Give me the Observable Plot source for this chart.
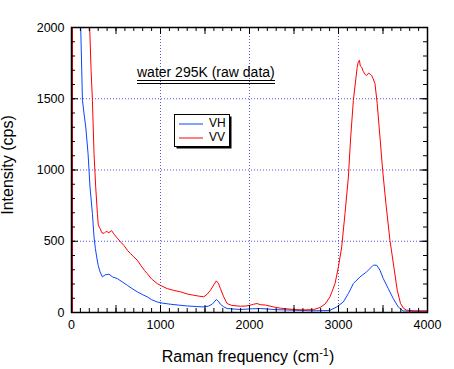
<!DOCTYPE html>
<html>
<head>
<meta charset="utf-8">
<script src="https://cdn.jsdelivr.net/npm/d3@7"></script>
<script src="https://cdn.jsdelivr.net/npm/@observablehq/plot@0.6"></script>
<style>
  html, body { margin: 0; padding: 0; background: white; }
  #chart { width: 454px; height: 369px; }
</style>
</head>
<body>
<div id="chart"></div>
<script>
// ---- Data ----
const vvFreq = [10, 12, 180, 205, 220, 235, 253, 272, 291, 300, 310, 321, 340, 366, 390, 420, 450, 478, 510, 552, 590, 627, 660, 700, 739, 780, 820, 851, 900, 963, 1000, 1075, 1150, 1225, 1300, 1374, 1430, 1486, 1520, 1561, 1600, 1628, 1650, 1673, 1710, 1748, 1800, 1897, 1950, 2000, 2046, 2084, 2120, 2180, 2270, 2350, 2494, 2600, 2718, 2793, 2850, 2905, 2961, 2999, 3036, 3073, 3111, 3137, 3167, 3197, 3210, 3222, 3235, 3245, 3260, 3280, 3300, 3316, 3340, 3360, 3372, 3390, 3410, 3435, 3466, 3496, 3533, 3578, 3622, 3660, 3697, 3730, 3765, 3850, 4000];
const vvIntensity = [0, 3000, 2400, 1990, 1700, 1490, 1115, 880, 695, 620, 600, 590, 560, 555, 570, 560, 575, 550, 525, 495, 470, 437, 415, 390, 367, 330, 295, 273, 235, 203, 190, 168, 155, 145, 130, 121, 115, 110, 125, 156, 195, 222, 205, 168, 110, 63, 50, 44, 45, 50, 58, 63, 55, 52, 39, 30, 21, 18, 20, 35, 60, 110, 203, 320, 460, 694, 951, 1231, 1489, 1652, 1720, 1757, 1770, 1730, 1722, 1690, 1670, 1664, 1680, 1670, 1664, 1640, 1606, 1466, 1231, 998, 764, 507, 320, 156, 63, 30, 16, 12, 12];

const vhFreq = [10, 12, 90, 104, 123, 140, 160, 186, 208, 235, 253, 268, 283, 300, 321, 347, 380, 421, 460, 515, 570, 627, 680, 739, 800, 851, 900, 963, 1030, 1113, 1200, 1300, 1400, 1486, 1540, 1580, 1628, 1650, 1673, 1710, 1748, 1897, 2000, 2121, 2300, 2500, 2700, 2900, 2980, 3054, 3111, 3167, 3242, 3316, 3391, 3429, 3466, 3503, 3559, 3615, 3671, 3727, 3850, 4000];
const vhIntensity = [0, 3000, 2300, 1990, 1490, 1400, 1302, 1115, 881, 694, 530, 450, 390, 330, 285, 250, 265, 269, 250, 238, 215, 191, 168, 145, 125, 110, 90, 74, 65, 58, 52, 46, 42, 39, 45, 58, 91, 80, 58, 40, 28, 21, 25, 28, 20, 16, 12, 14, 39, 74, 133, 203, 250, 285, 332, 332, 297, 238, 168, 98, 39, 11, 8, 8];

const xLabelTicks = [0, 1000, 2000, 3000, 4000];
const yLabelTicks = [0, 500, 1000, 1500, 2000];
const xGridTicks = [1000, 2000, 3000];
const yGridTicks = [500, 1000, 1500];
const xMinorTicks = d3.range(0, 4001, 100);
const xMajorTicks = d3.range(0, 4001, 500);
const yMinorTicks = d3.range(0, 2001, 100);
const yMajorTicks = d3.range(0, 2001, 500);

const seriesNames = ["VH", "VV"];
const seriesColors = ["#0a45ff", "#ff0000"];
const titleText = "water 295K (raw data)";

const vv = vvFreq.map((f, i) => ({f, v: vvIntensity[i]}));
const vh = vhFreq.map((f, i) => ({f, v: vhIntensity[i]}));

const W = 454, H = 369, mL = 71, mR = 27, mT = 27, mB = 57;
const plotW = W - mL - mR, plotH = H - mT - mB;
const minor = 4, major = 7;
const fmt = d3.format("d");

const chart = Plot.plot({
  width: W,
  height: H,
  marginLeft: mL,
  marginRight: mR,
  marginTop: mT,
  marginBottom: mB,
  style: {fontFamily: "'Liberation Sans', Arial, sans-serif", fontSize: "12.5px", background: "white", color: "black", overflow: "visible"},
  x: {domain: [0, 4000]},
  y: {domain: [0, 2000]},
  marks: [
    Plot.gridX(xGridTicks, {stroke: "#5656e0", strokeOpacity: 1, strokeDasharray: "1,2"}),
    Plot.gridY(yGridTicks, {stroke: "#5656e0", strokeOpacity: 1, strokeDasharray: "1,2"}),
    Plot.line(vh, {x: "f", y: "v", stroke: seriesColors[0], strokeWidth: 1, clip: true}),
    Plot.line(vv, {x: "f", y: "v", stroke: seriesColors[1], strokeWidth: 1, clip: true}),
    // inward ticks on all four sides
    Plot.ruleX(xMinorTicks, {x: d => d, insetTop: plotH - minor, stroke: "black"}),
    Plot.ruleX(xMajorTicks, {x: d => d, insetTop: plotH - major, stroke: "black"}),
    Plot.ruleX(xMinorTicks, {x: d => d, insetBottom: plotH - minor, stroke: "black"}),
    Plot.ruleX(xMajorTicks, {x: d => d, insetBottom: plotH - major, stroke: "black"}),
    Plot.ruleY(yMinorTicks, {y: d => d, insetRight: plotW - minor, stroke: "black"}),
    Plot.ruleY(yMajorTicks, {y: d => d, insetRight: plotW - major, stroke: "black"}),
    Plot.ruleY(yMinorTicks, {y: d => d, insetLeft: plotW - minor, stroke: "black"}),
    Plot.ruleY(yMajorTicks, {y: d => d, insetLeft: plotW - major, stroke: "black"}),
    // labels
    Plot.axisX(xLabelTicks, {anchor: "bottom", tickSize: 0, tickPadding: 8, label: null, tickFormat: fmt, fill: "black", fontSize: 12.5}),
    Plot.axisY(yLabelTicks, {anchor: "left", tickSize: 0, tickPadding: 7, label: null, tickFormat: fmt, fill: "black", fontSize: 12.5}),
    Plot.frame({stroke: "black", strokeWidth: 1.5})
  ]
});

document.getElementById("chart").appendChild(chart);

// ---- decorations: titles and legend ----
const svg = d3.select(chart);
const ff = "'Liberation Sans', Arial, sans-serif";

// y-axis title
svg.append("text")
  .attr("transform", "translate(13,165) rotate(-90)")
  .attr("text-anchor", "middle")
  .attr("font-family", ff).attr("font-size", 16).attr("fill", "black")
  .text("Intensity (cps)");

// x-axis title with superscript
const xt = svg.append("text")
  .attr("x", 248).attr("y", 362)
  .attr("text-anchor", "middle")
  .attr("font-family", ff).attr("font-size", 16).attr("fill", "black");
xt.append("tspan").text("Raman frequency (cm");
xt.append("tspan").attr("font-size", 11).attr("dy", -6).text("-1");
xt.append("tspan").attr("dy", 6).text(")");

// title with double underline
svg.append("text")
  .attr("x", 137).attr("y", 77)
  .attr("text-anchor", "start")
  .attr("font-family", ff).attr("font-size", 14).attr("fill", "black")
  .text(titleText);
svg.append("line").attr("x1", 137).attr("x2", 275).attr("y1", 80.5).attr("y2", 80.5).attr("stroke", "black").attr("stroke-width", 1);
svg.append("line").attr("x1", 137).attr("x2", 275).attr("y1", 83.5).attr("y2", 83.5).attr("stroke", "black").attr("stroke-width", 1);

// legend box with drop shadow
const lg = svg.append("g");
lg.append("rect").attr("x", 176.5).attr("y", 116.5).attr("width", 55).attr("height", 32).attr("fill", "black");
lg.append("rect").attr("x", 174.5).attr("y", 114.5).attr("width", 55).attr("height", 32).attr("fill", "white").attr("stroke", "black").attr("stroke-width", 1);
seriesNames.forEach((name, i) => {
  const yy = 124 + i * 14;
  lg.append("line").attr("x1", 179).attr("x2", 203).attr("y1", yy).attr("y2", yy).attr("stroke", seriesColors[i]).attr("stroke-width", 1);
  lg.append("text").attr("x", 209).attr("y", yy + 2.5 + i * 0.5)
    .attr("text-anchor", "start")
    .attr("font-family", ff).attr("font-size", 12).attr("fill", "black").text(name);
});
</script>
</body>
</html>
